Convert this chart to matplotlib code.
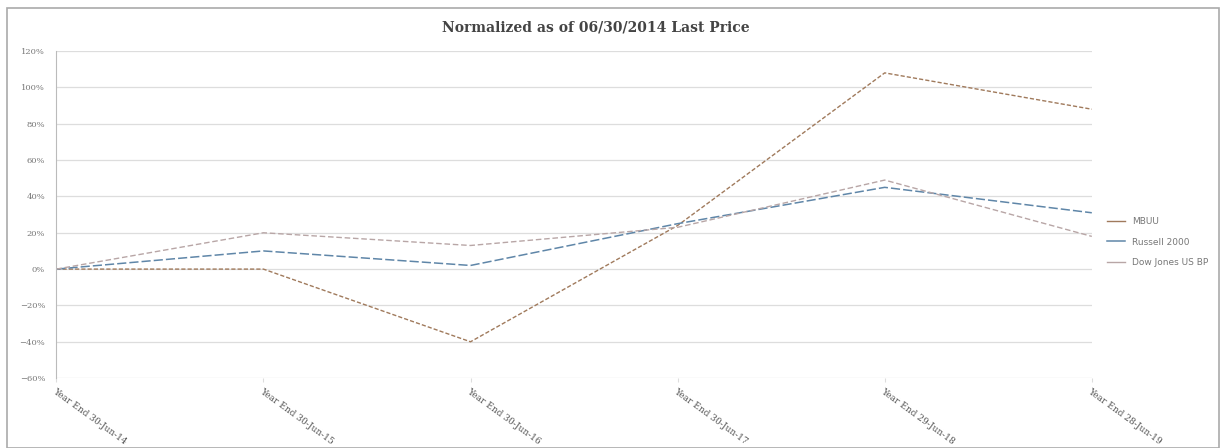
import matplotlib.pyplot as plt
from matplotlib.patches import Rectangle
from matplotlib.ticker import PercentFormatter

periods = ['Year End 30-Jun-14', 'Year End 30-Jun-15', 'Year End 30-Jun-16',
           'Year End 30-Jun-17', 'Year End 29-Jun-18', 'Year End 28-Jun-19']
mbuu = [0, 0, -40, 24, 108, 88]
russell = [0, 10, 2, 25, 45, 31]
dowjones = [0, 20, 13, 23, 49, 18]
series_names = ['MBUU', 'Russell 2000', 'Dow Jones US BP']

fig = plt.figure(figsize=(12.24, 4.48), dpi=100)
ax = fig.add_axes([0.046, 0.156, 0.846, 0.73])

x = range(len(periods))
ax.plot(x, mbuu, color='#a07a5c', lw=1.0, ls=(0, (3, 1.5)), label=series_names[0])
ax.plot(x, russell, color='#5f86a8', lw=1.1, ls=(0, (6, 2)), label=series_names[1])
ax.plot(x, dowjones, color='#b8a6a6', lw=1.0, ls=(0, (4, 2)), label=series_names[2])

ax.set_xlim(0, len(periods) - 1)
ax.set_ylim(-60, 120)
ax.set_yticks(range(-60, 121, 20))
ax.yaxis.set_major_formatter(PercentFormatter(decimals=0))
ax.grid(axis='y', color='#dddddd', lw=0.9)
ax.set_axisbelow(True)
for s in ['top', 'right', 'bottom']:
    ax.spines[s].set_visible(False)
ax.spines['left'].set_color('#bbbbbb')
ax.tick_params(axis='y', length=0, labelsize=6, labelcolor='#777777', pad=8)
ax.tick_params(axis='x', length=3, color='#dddddd')
for lab in ax.get_yticklabels():
    lab.set_family('serif')

ax.set_xticks(list(x))
ax.set_xticklabels(periods, rotation=-36, ha='left', va='top', rotation_mode='anchor',
                   fontsize=6.5, family='serif', color='#555555')

fig.suptitle('Normalized as of 06/30/2014 Last Price', x=0.487, y=0.955,
             fontsize=10, fontweight='bold', family='serif', color='#444444')

leg = ax.legend(loc='center left', bbox_to_anchor=(1.007, 0.416), frameon=False,
                fontsize=6.5, handlelength=2.0, labelspacing=1.3, labelcolor='#777777')
for h in leg.get_lines():
    h.set_linestyle('-')

fig.patches.append(Rectangle((0.006, 0.0), 0.99, 0.982, transform=fig.transFigure,
                             fill=False, ec='#aaaaaa', lw=1.2))

fig.savefig('out.png', dpi=100)
